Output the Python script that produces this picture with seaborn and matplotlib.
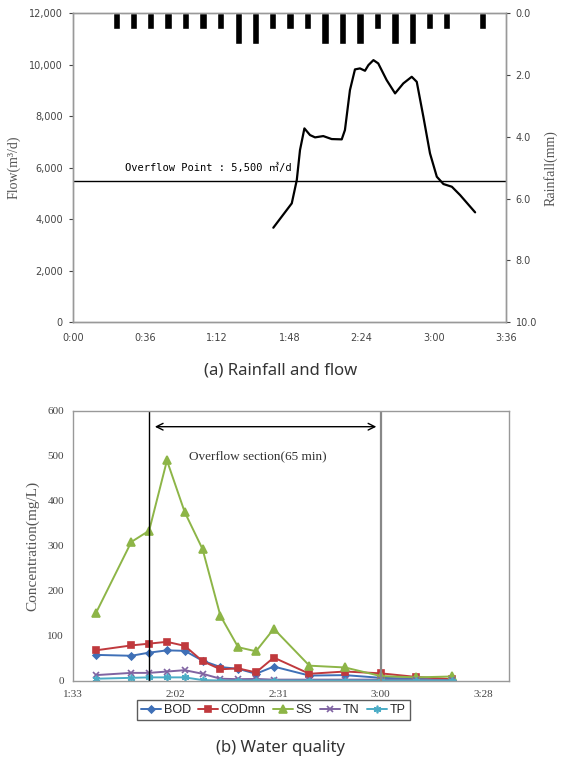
import matplotlib
matplotlib.use("Agg")
import matplotlib.pyplot as plt
import seaborn as sns
import pandas as pd
import numpy as np

# ---------------- data ----------------
# (a) rainfall (minutes from 0:00, mm)
rain_time = [21.7, 30.4, 38.9, 47.5, 56.1, 65.0, 73.6, 82.6, 91.2, 99.7, 108.3,
             117.1, 125.8, 134.4, 143.2, 151.9, 160.7, 169.3, 178.0, 186.4, 204.3]
rain_mm = [0.5, 0.5, 0.5, 0.5, 0.5, 0.5, 0.5, 1.0, 1.0, 0.5, 0.5,
           0.5, 1.0, 1.0, 1.0, 0.5, 1.0, 1.0, 0.5, 0.5, 0.5]

# (a) flow (minutes, m3/d)
flow_time = [100.0, 109.2, 111.7, 113.3, 115.5, 118.3, 120.8, 124.9, 129.1, 134.1,
             135.7, 138.2, 140.7, 143.2, 145.7, 147.4, 149.9, 152.3, 156.5, 160.7,
             164.8, 169.0, 171.5, 174.8, 178.1, 181.5, 184.8, 189.0, 193.1, 200.6]
flow_val = [3666, 4614, 5520, 6686, 7529, 7269, 7180, 7230, 7114, 7102,
            7464, 9018, 9823, 9862, 9770, 9990, 10184, 10056, 9407, 8890,
            9279, 9536, 9341, 7981, 6558, 5649, 5365, 5260, 4937, 4264]
overflow_point = 5500

flow_ticks = [0, 2000, 4000, 6000, 8000, 10000, 12000]
flow_ticklabels = ["0", "2,000", "4,000", "6,000", "8,000", "10,000", "12,000"]
rain_ticks = [0, 2, 4, 6, 8, 10]
rain_ticklabels = ["0.0", "2.0", "4.0", "6.0", "8.0", "10.0"]
time_ticks_a = [0, 36, 72, 108, 144, 180, 216]
time_labels_a = ["0:00", "0:36", "1:12", "1:48", "2:24", "3:00", "3:36"]

# (b) water quality (minutes, mg/L)
wq_time = [100, 110, 115, 120, 125, 130, 135, 140, 145, 150, 160, 170, 180, 190, 200]
BOD = [58, 56, 63, 68, 67, 45, 31, 27, 16, 32, 12, 13, 7, 5, 2]
CODmn = [68, 79, 83, 87, 78, 44, 26, 28, 19, 52, 16, 21, 17, 9, 4]
SS = [150, 309, 334, 490, 375, 293, 145, 75, 66, 116, 34, 30, 11, 8, 10]
TN = [13, 18, 18, 21, 24, 16, 5, 4, 4.5, 3, 3, 3, 3, 3, 2]
TP = [5, 7, 8, 8, 8, 2, 1, 1, 1, 1, 1, 1, 1, 1, 1]

overflow_start = 115
overflow_end = 180
time_ticks_b = [93.6, 122.4, 151.2, 180.0, 208.8]
time_labels_b = ["1:33", "2:02", "2:31", "3:00", "3:28"]
conc_ticks = [0, 100, 200, 300, 400, 500, 600]

# ---------------- style ----------------
sns.set_theme(style="white")
plt.rcParams["font.family"] = ["DejaVu Sans", "Noto Sans CJK KR"]

fig = plt.figure(figsize=(5.61, 7.63), dpi=100)

grey_txt = "#444444"
spine_c = "#999999"

# ---------------- (a) ----------------
ax = fig.add_axes([0.1296, 0.578, 0.7724, 0.4044])
sns.lineplot(x=flow_time, y=flow_val, ax=ax, color="black", linewidth=1.6,
             sort=False, estimator=None)
ax.axhline(overflow_point, color="black", linewidth=1.0)
ax.text(26, overflow_point + 280, "Overflow Point : 5,500 ㎥/d",
        family=["DejaVu Sans Mono", "Noto Sans CJK KR"], fontsize=7.5,
        color="black", va="bottom", ha="left")
ax.set_xlim(0, 216)
ax.set_ylim(0, 12000)
ax.set_xticks(time_ticks_a)
ax.set_xticklabels(time_labels_a)
ax.set_yticks(flow_ticks)
ax.set_yticklabels(flow_ticklabels)
ax.tick_params(axis="both", labelsize=7, colors=grey_txt, length=3,
               direction="out", width=0.8)
ax.tick_params(axis="x", pad=5)
ax.tick_params(axis="y", pad=4)
for s in ax.spines.values():
    s.set_color(spine_c)
    s.set_linewidth(1.0)
ax.set_ylabel("Flow(m³/d)", family="Liberation Serif", fontsize=10,
              color="#555555", labelpad=6)

ax2 = ax.twinx()
ax2.bar(rain_time, rain_mm, width=3.6, color="black", align="center")
ax2.set_ylim(10, 0)
ax2.set_xlim(0, 216)
ax2.set_yticks(rain_ticks)
ax2.set_yticklabels(rain_ticklabels)
ax2.tick_params(axis="y", labelsize=7, colors=grey_txt, length=3,
                direction="out", width=0.8, pad=4)
for s in ax2.spines.values():
    s.set_color(spine_c)
    s.set_linewidth(1.0)
ax2.set_ylabel("Rainfall(mm)", family="Liberation Serif", fontsize=10,
               color="#555555", labelpad=5)
ax2.grid(False)
ax.grid(False)

fig.text(0.5, 0.515, "(a) Rainfall and flow", ha="center", va="center",
         fontsize=12, color="#333333", family="Noto Sans")

# ---------------- (b) ----------------
bx = fig.add_axes([0.130, 0.1075, 0.777, 0.3539])
series = [("BOD", BOD, "#3F70B7", "D", 3.5),
          ("CODmn", CODmn, "#C0393D", "s", 5),
          ("SS", SS, "#8DB547", "^", 5.5),
          ("TN", TN, "#8064A2", "x", 5),
          ("TP", TP, "#4BACC6", (6, 2, 0), 5.5)]
for name, vals, col, mk, ms in series:
    sns.lineplot(x=wq_time, y=vals, ax=bx, color=col, linewidth=1.4,
                 marker=mk, markersize=ms, markeredgecolor=col,
                 markerfacecolor=col, markeredgewidth=1.2,
                 label=name, sort=False, estimator=None)

bx.axvline(overflow_start, color="black", linewidth=1.0)
bx.axvline(overflow_end, color="#888888", linewidth=1.6)
bx.annotate("", xy=(116.6, 565), xytext=(178.8, 565),
            arrowprops=dict(arrowstyle="<->", color="black", lw=1.0,
                            shrinkA=0, shrinkB=0))
bx.text(145.5, 500, "Overflow section(65 min)", ha="center", va="center",
        family="Liberation Serif", fontsize=9.5, color="#333333")

bx.set_xlim(93.6, 216)
bx.set_ylim(0, 600)
bx.set_xticks(time_ticks_b)
bx.set_xticklabels(time_labels_b)
bx.set_yticks(conc_ticks)
for lab in bx.get_xticklabels() + bx.get_yticklabels():
    lab.set_family("Liberation Serif")
bx.tick_params(axis="both", labelsize=8, colors=grey_txt, length=3,
               direction="out", width=0.8)
for s in bx.spines.values():
    s.set_color(spine_c)
    s.set_linewidth(1.0)
bx.grid(False)
bx.set_ylabel("Concentration(mg/L)", family="Liberation Serif", fontsize=11,
              color="#555555", labelpad=6)
bx.set_xlabel("")

handles, labels = bx.get_legend_handles_labels()
bx.get_legend().remove()
leg = fig.legend(handles, labels, loc="center", bbox_to_anchor=(0.487, 0.0695),
                 ncol=5, frameon=True, fancybox=False, edgecolor="#333333",
                 handlelength=1.6, handletextpad=0.2,
                 columnspacing=0.6, borderpad=0.35,
                 prop={"family": "Liberation Sans", "size": 9})
leg.get_frame().set_linewidth(1.0)

fig.text(0.5, 0.0197, "(b) Water quality", ha="center", va="center",
         fontsize=12, color="#333333", family="Noto Sans")

fig.savefig("out.png", dpi=100)
